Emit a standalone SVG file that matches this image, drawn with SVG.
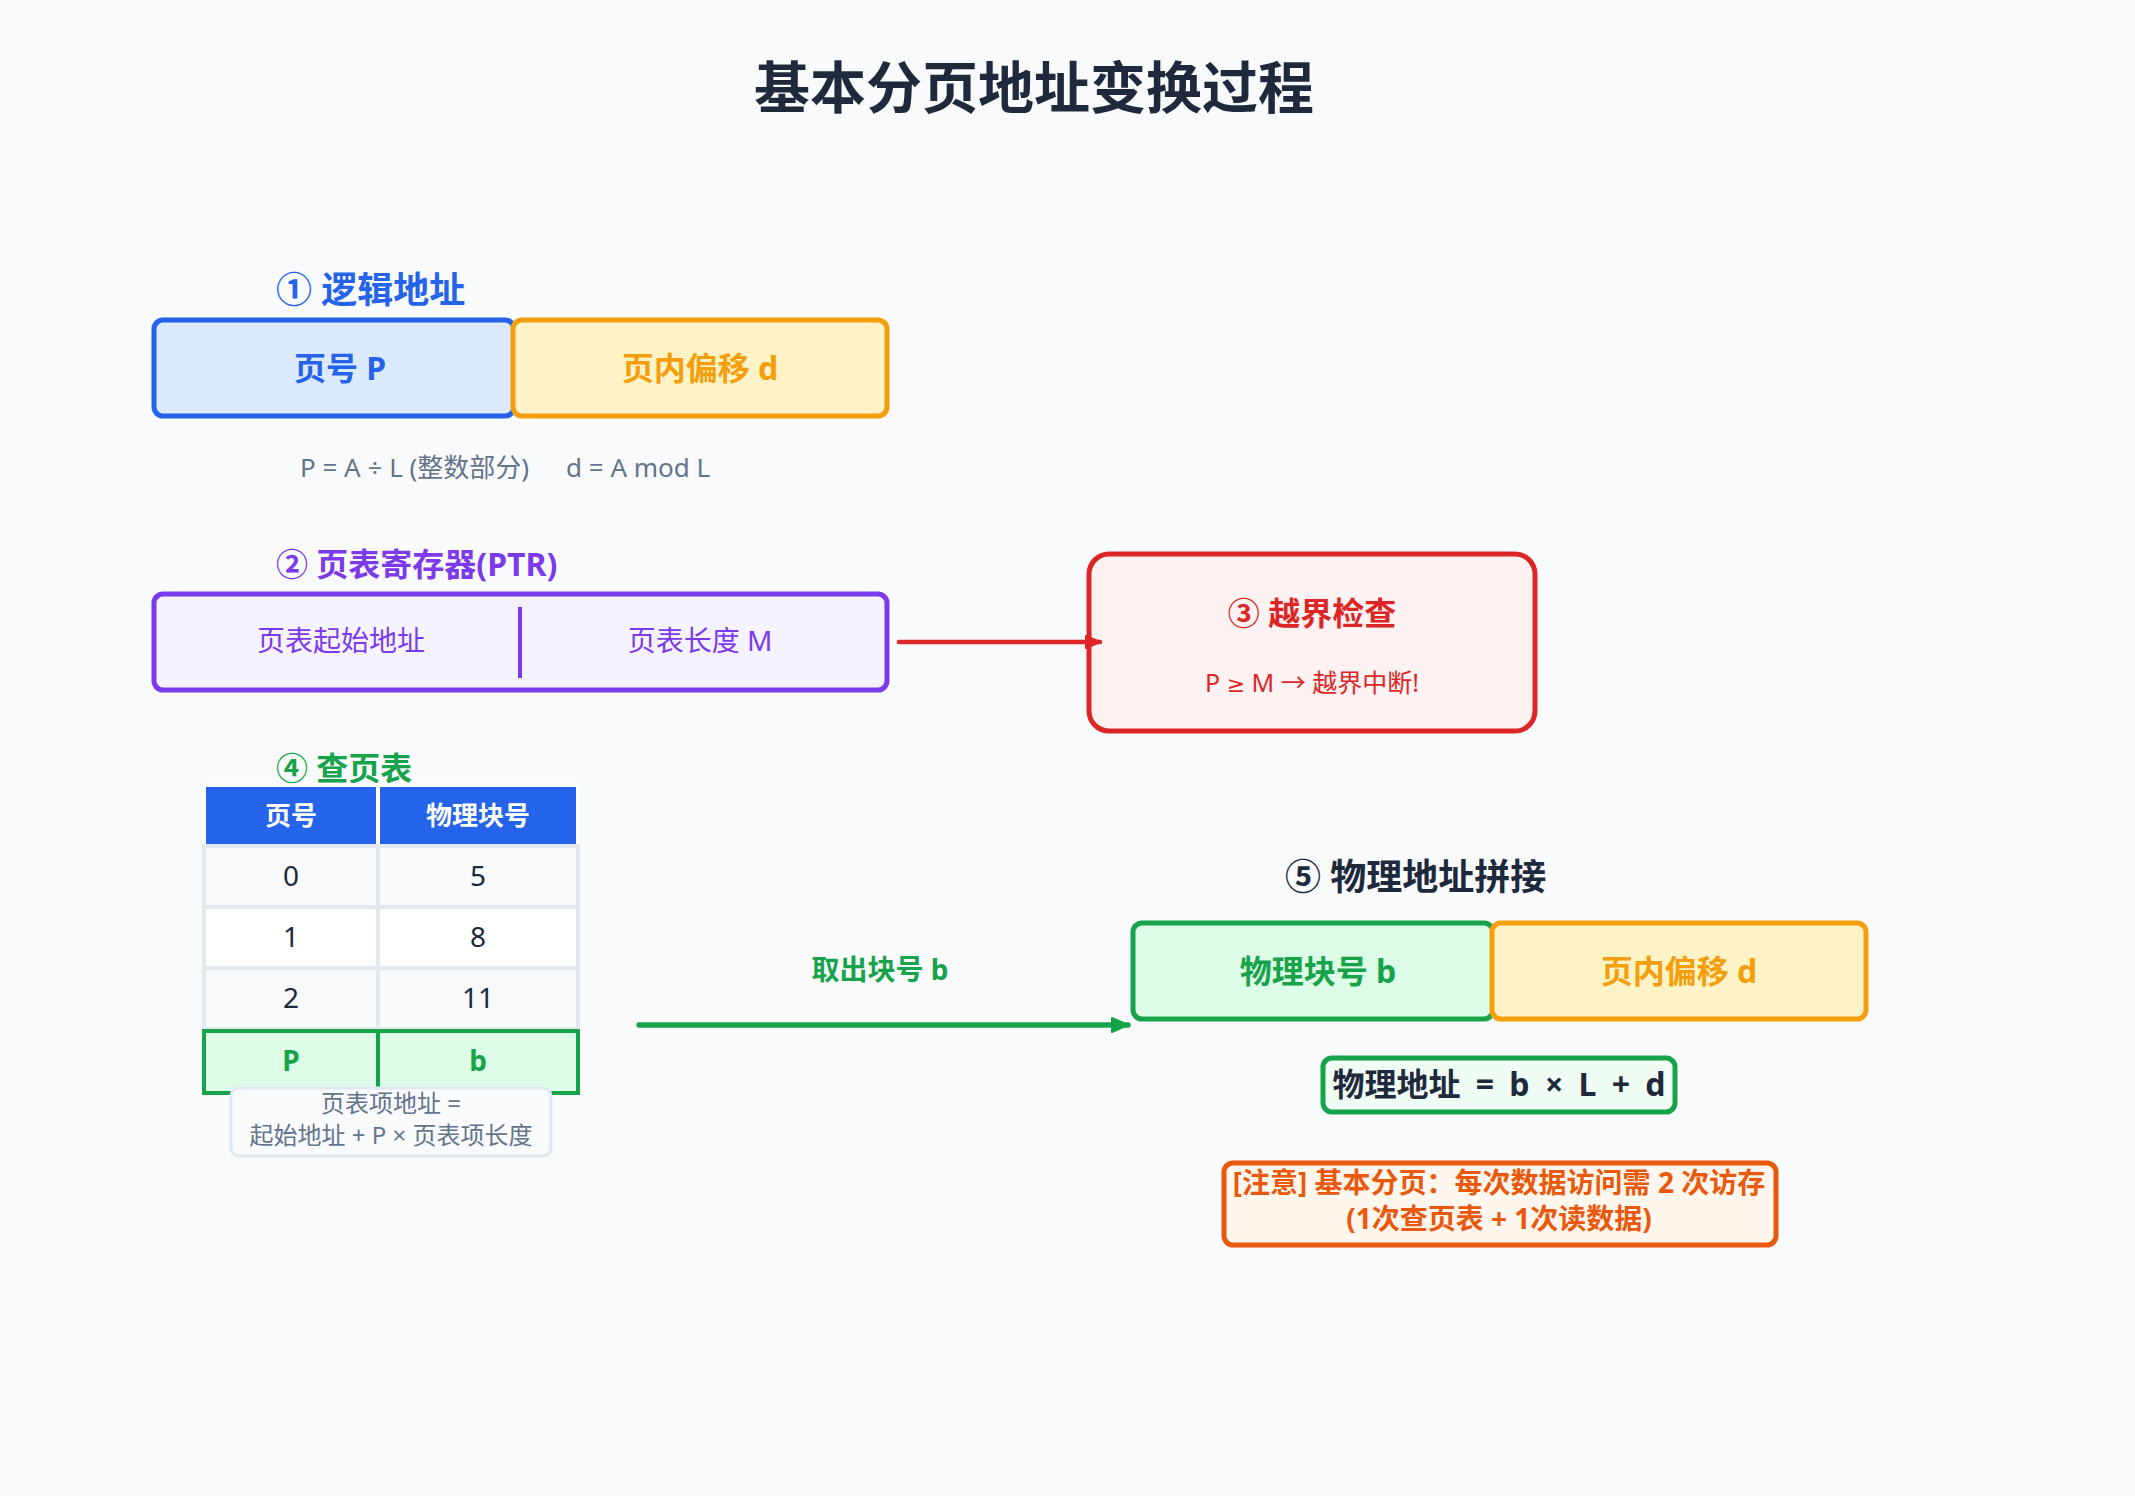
<svg xmlns="http://www.w3.org/2000/svg" width="2135" height="1496" viewBox="0 0 2135 1496">
<defs>
<style>
text{font-family:"Noto Sans","Noto Sans CJK SC",sans-serif;}
.b{font-weight:700;}
.mid{text-anchor:middle;}
.dark{fill:#1e293b;}
.gray{fill:#64748b;}
.blue{fill:#2563eb;}
.orange{fill:#f59e0b;}
.purple{fill:#7c3aed;}
.red{fill:#dc2626;}
.green{fill:#16a34a;}
.note{fill:#ea580c;}
.cell{fill:#f8fafc;stroke:#e2e8f0;stroke-width:4;}
.cellw{fill:#ffffff;stroke:#e2e8f0;stroke-width:4;}
.hcell{fill:#2563eb;stroke:#ffffff;stroke-width:4;}
.pcell{fill:#dcfce7;stroke:#16a34a;stroke-width:4;}
</style>
<marker id="ahRed" viewBox="0 0 18 16" refX="16" refY="8" markerWidth="18" markerHeight="16" markerUnits="userSpaceOnUse" orient="auto">
<path d="M2,2 L16,8 L2,14 Z" fill="#dc2626" stroke="#dc2626" stroke-width="2" stroke-linejoin="round"/>
</marker>
<marker id="ahGreen" viewBox="0 0 20 18" refX="18" refY="9" markerWidth="20" markerHeight="18" markerUnits="userSpaceOnUse" orient="auto">
<path d="M2,2 L18,9 L2,16 Z" fill="#16a34a" stroke="#16a34a" stroke-width="2" stroke-linejoin="round"/>
</marker>
</defs>
<rect x="0" y="0" width="2135" height="1496" fill="#f8fafc"/>
<text id="title" x="1034" y="108" class="b mid dark" font-size="56">基本分页地址变换过程</text>

<g id="logical-address">
<text x="276" y="303" class="b blue" font-size="36">① 逻辑地址</text>
<rect x="154" y="320" width="360" height="96" rx="9" fill="#dbeafe" stroke="#2563eb" stroke-width="5"/>
<rect x="513" y="320" width="374" height="96" rx="9" fill="#fef3c7" stroke="#f59e0b" stroke-width="5"/>
<text x="340" y="380" class="b mid blue" font-size="32">页号 P</text>
<text x="700" y="380" class="b mid orange" font-size="32">页内偏移 d</text>
<text x="300" y="477" class="gray" font-size="26">P = A ÷ L (整数部分)</text>
<text x="566" y="477" class="gray" font-size="26">d = A mod L</text>
</g>

<g id="ptr">
<text x="276" y="576" class="b purple" font-size="32">② 页表寄存器(PTR)</text>
<rect x="154" y="594" width="733" height="96" rx="9" fill="#f5f3ff" stroke="#7c3aed" stroke-width="5"/>
<line x1="520" y1="607" x2="520" y2="678" stroke="#7c3aed" stroke-width="4"/>
<text x="341" y="651" class="mid purple" font-size="28">页表起始地址</text>
<text x="700" y="651" class="mid purple" font-size="28">页表长度 M</text>
</g>

<g id="bounds-check">
<rect x="1089" y="554" width="446" height="177" rx="20" fill="#fef2f2" stroke="#dc2626" stroke-width="5"/>
<text x="1312" y="625" class="b mid red" font-size="32">③ 越界检查</text>
<text x="1312" y="692" class="mid red" font-size="25">P <tspan font-family="'DejaVu Sans',sans-serif" font-size="22">≥</tspan> M → 越界中断!</text>
</g>

<g id="page-table">
<text x="276" y="780" class="b green" font-size="32">④ 查页表</text>
<rect x="204" y="785" width="174" height="61" class="hcell"/>
<rect x="378" y="785" width="200" height="61" class="hcell"/>
<text x="291" y="825" class="b mid" fill="#ffffff" font-size="26">页号</text>
<text x="478" y="825" class="b mid" fill="#ffffff" font-size="26">物理块号</text>
<rect x="204" y="846" width="174" height="61" class="cell"/>
<rect x="378" y="846" width="200" height="61" class="cell"/>
<rect x="204" y="907" width="174" height="61" class="cellw"/>
<rect x="378" y="907" width="200" height="61" class="cellw"/>
<rect x="204" y="968" width="174" height="61" class="cell"/>
<rect x="378" y="968" width="200" height="61" class="cell"/>
<rect x="204" y="1031" width="174" height="62" class="pcell"/>
<rect x="378" y="1031" width="200" height="62" class="pcell"/>
<text x="291" y="886" class="mid dark" font-size="28">0</text>
<text x="478" y="886" class="mid dark" font-size="28">5</text>
<text x="291" y="947" class="mid dark" font-size="28">1</text>
<text x="478" y="947" class="mid dark" font-size="28">8</text>
<text x="291" y="1008" class="mid dark" font-size="28">2</text>
<text x="478" y="1008" class="mid dark" font-size="28">11</text>
<text x="291" y="1071" class="b mid green" font-size="28">P</text>
<text x="478" y="1071" class="b mid green" font-size="28">b</text>
</g>

<g id="entry-note">
<rect x="231" y="1088" width="320" height="68" rx="8" fill="#f8fafc" stroke="#e2e8f0" stroke-width="3"/>
<text x="391" y="1112" class="mid gray" font-size="24">页表项地址 =</text>
<text x="391" y="1144" class="mid gray" font-size="24">起始地址 + P × 页表项长度</text>
</g>

<g id="physical-address">
<text x="1285" y="890" class="b dark" font-size="36">⑤ 物理地址拼接</text>
<rect x="1133" y="923" width="360" height="96" rx="9" fill="#dcfce7" stroke="#16a34a" stroke-width="5"/>
<rect x="1492" y="923" width="374" height="96" rx="9" fill="#fef3c7" stroke="#f59e0b" stroke-width="5"/>
<text x="1318" y="983" class="b mid green" font-size="32">物理块号 b</text>
<text x="1679" y="983" class="b mid orange" font-size="32">页内偏移 d</text>
</g>

<g id="formula">
<rect x="1323" y="1058" width="352" height="54" rx="9" fill="#f0fdf4" stroke="#16a34a" stroke-width="5"/>
<text x="1499" y="1096" class="b mid dark" font-size="32" word-spacing="7">物理地址 = b × L + d</text>
</g>

<g id="warning">
<rect x="1224" y="1163" width="552" height="82" rx="9" fill="#fff7ed" stroke="#ea580c" stroke-width="5"/>
<text x="1499" y="1193" class="b mid note" font-size="28">[注意] 基本分页：每次数据访问需 2 次访存</text>
<text x="1499" y="1229" class="b mid note" font-size="28">(1次查页表 + 1次读数据)</text>
</g>

<g id="connectors">
<line x1="899" y1="642" x2="1100" y2="642" stroke="#dc2626" stroke-width="4.5" stroke-linecap="round" marker-end="url(#ahRed)"/>
<line x1="639" y1="1025" x2="1128" y2="1025" stroke="#16a34a" stroke-width="5.5" stroke-linecap="round" marker-end="url(#ahGreen)"/>
<text x="880" y="980" class="b mid green" font-size="28">取出块号 b</text>
</g>
</svg>
